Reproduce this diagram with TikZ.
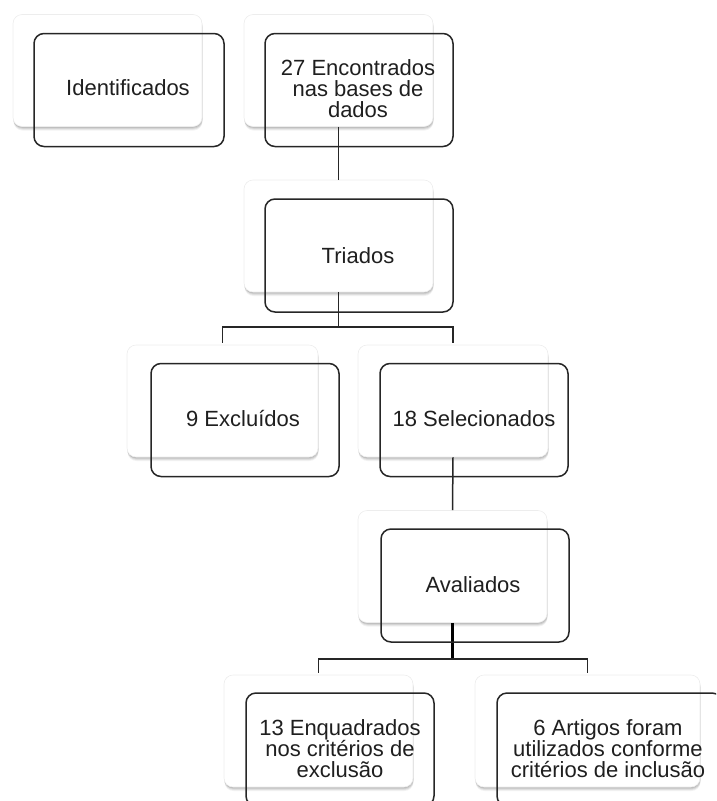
\documentclass[tikz,border=0pt]{standalone}
\usepackage{fontspec}
\setmainfont{Liberation Sans}
\usetikzlibrary{shadows}
\begin{document}
\begin{tikzpicture}[x=1pt,y=-1pt,
  lbox/.style={rectangle, rounded corners=9pt, fill=white, draw=black!7, line width=0.6pt,
    minimum width=#1, minimum height=112pt, inner sep=0pt,
    drop shadow={shadow xshift=0.5pt, shadow yshift=-4pt, opacity=0.05, fill=black},
    drop shadow={shadow xshift=0.5pt, shadow yshift=-3pt, opacity=0.07, fill=black},
    drop shadow={shadow xshift=0.5pt, shadow yshift=-2pt, opacity=0.09, fill=black},
    drop shadow={shadow xshift=0pt, shadow yshift=-1pt, opacity=0.1, fill=black}},
  lbox/.default=189pt,
  dbox/.style={rectangle, rounded corners=10pt, draw=black!85, line width=1.5pt,
    minimum width=#1, minimum height=113pt, inner sep=0pt},
  dbox/.default=188pt,
  txt/.style={font=\fontsize{22}{21}\selectfont, align=center, text=black!88, inner sep=0pt},
  conn/.style={draw=black!85, line width=1.5pt},
  thickconn/.style={draw=black, line width=2.8pt}
]
\useasboundingbox (0,0) rectangle (716,801);
\clip (0,0) rectangle (716,801);

% coordinates for connector bars
\coordinate (b1) at (338.5,327);
\coordinate (b2) at (452.5,659);

% light (shadowed) boxes
\node[lbox] (lid)  at (107.5,70.5) {};
\node[lbox] (l27)  at (338.5,70.5) {};
\node[lbox] (ltri) at (338.5,236) {};
\node[lbox=191pt] (lexc) at (222.5,401) {};
\node[lbox=190pt] (lsel) at (453,401) {};
\node[lbox] (laval) at (452.5,566.5) {};
\node[lbox] (lenq) at (318.5,731) {};
\node[lbox=225pt] (lart) at (587.5,731) {};

% connectors
\draw[conn] (l27.south) -- (ltri.north);
\draw[conn] (ltri.south) -- (b1);
\draw[conn] ([yshift=2pt]lexc.north) |- (b1) -| ([yshift=2pt]lsel.north);
\draw[conn] (lsel.south) -- (laval.north);
\draw[thickconn] (laval.south) -- (b2);
\draw[conn] ([yshift=2pt]lenq.north) |- (b2) -| ([yshift=2pt]lart.north);

% dark outlined boxes
\node[dbox=190pt] (did) at (129,90) {};
\node[dbox] (d27) at (359,90) {};
\node[dbox] (dtri) at (359,255.5) {};
\node[dbox] (dexc) at (245,420) {};
\node[dbox] (dsel) at (474,420) {};
\node[dbox] (daval) at (475,585.5) {};
\node[dbox] (denq) at (340,749.5) {};
\node[dbox=225pt] (dart) at (609.5,749.5) {};

% texts
\node[txt] (tid) at (128,88) {Identificados};
\node[txt] (t27) at (358,89) {27 Encontrados\\nas bases de\\dados};
\node[txt] (ttri) at (358,256) {Triados};
\node[txt] (texc) at (243,419) {9 Excluídos};
\node[txt] (tsel) at (474,419) {18 Selecionados};
\node[txt] (taval) at (473,585) {Avaliados};
\node[txt] (tenq) at (340,749) {13 Enquadrados\\nos critérios de\\exclusão};
\node[txt] (tart) at (608,749) {6 Artigos foram\\utilizados conforme\\critérios de inclusão};
\end{tikzpicture}
\end{document}
